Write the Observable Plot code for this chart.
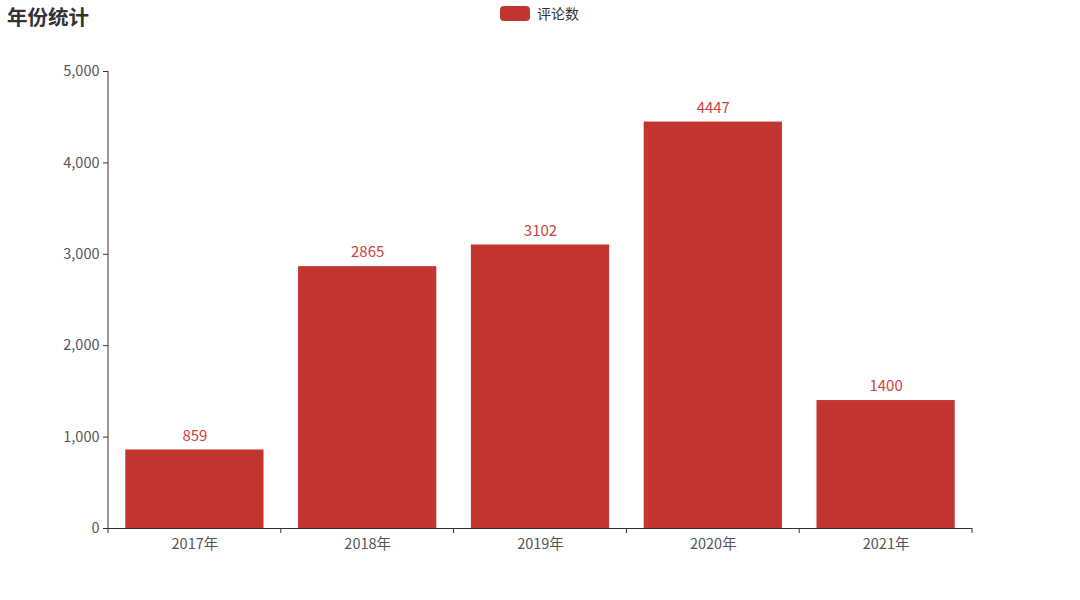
<!DOCTYPE html>
<html>
<head>
<meta charset="utf-8">
<script src="https://cdn.jsdelivr.net/npm/d3@7"></script>
<script src="https://cdn.jsdelivr.net/npm/@observablehq/plot@0.6"></script>
<style>
  html, body { margin: 0; padding: 0; background: #fff; }
  #wrap { position: relative; width: 1080px; height: 600px; font-family: "Noto Sans CJK SC", "Noto Sans", sans-serif; }
  #title { position: absolute; left: 7px; top: 1px; font-size: 20.5px; font-weight: bold; color: #333; }
  #legend { position: absolute; left: 500px; top: 3px; display: flex; align-items: center; font-size: 14px; color: #333; }
  #legend .sw { width: 30px; height: 15px; border-radius: 4px; background: #c23531; margin-right: 7px; }
</style>
</head>
<body>
<div id="wrap">
  <div id="title">年份统计</div>
  <div id="legend"><span class="sw"></span><span>评论数</span></div>
</div>
<script>
const years = ["2017年", "2018年", "2019年", "2020年", "2021年"];
const counts = [859, 2865, 3102, 4447, 1400];
const yTicks = [0, 1000, 2000, 3000, 4000, 5000];
const seriesName = "评论数";

const data = years.map((y, i) => ({year: y, count: counts[i]}));
const axisColor = "#333";

function boundaryTicks(index, scales, values, dim) {
  const g = d3.create("svg:g");
  const x0 = dim.marginLeft, x1 = dim.width - dim.marginRight;
  const y0 = dim.height - dim.marginBottom, yTop = dim.marginTop;
  const n = years.length;
  for (let i = 0; i <= n; i++) {
    const x = x0 + (x1 - x0) * i / n;
    g.append("line").attr("x1", x).attr("x2", x).attr("y1", y0).attr("y2", y0 + 5)
      .attr("stroke", axisColor).attr("stroke-width", 1);
  }
  g.append("line").attr("x1", x0).attr("x2", x0).attr("y1", yTop).attr("y2", y0)
    .attr("stroke", axisColor).attr("stroke-width", 1);
  return g.node();
}

const chart = Plot.plot({
  width: 1080,
  height: 600,
  marginLeft: 108,
  marginRight: 108,
  marginTop: 71,
  marginBottom: 72,
  style: {fontFamily: "'Noto Sans CJK SC', 'Noto Sans', sans-serif", fontSize: "14px", color: "#555", background: "transparent"},
  x: {domain: years, paddingInner: 0.2, paddingOuter: 0.1, round: false, label: null},
  y: {domain: [0, 5000], label: null},
  marks: [
    Plot.barY(data, {x: "year", y: "count", fill: "#c23531"}),
    Plot.text(data, {x: "year", y: "count", text: d => String(d.count), dy: -14, fill: "#d0413a", fontSize: 15}),
    Plot.ruleY([0], {stroke: axisColor}),
    Plot.axisX({tickSize: 0, tickPadding: 10, fontSize: 14.5}),
    Plot.axisY({ticks: yTicks, tickSize: 5, tickPadding: 4, tickFormat: d3.format(","), fontSize: 14.5, stroke: axisColor}),
    boundaryTicks
  ]
});
chart.style.position = "absolute";
chart.style.left = "0";
chart.style.top = "0";
document.getElementById("wrap").prepend(chart);
</script>
</body>
</html>
